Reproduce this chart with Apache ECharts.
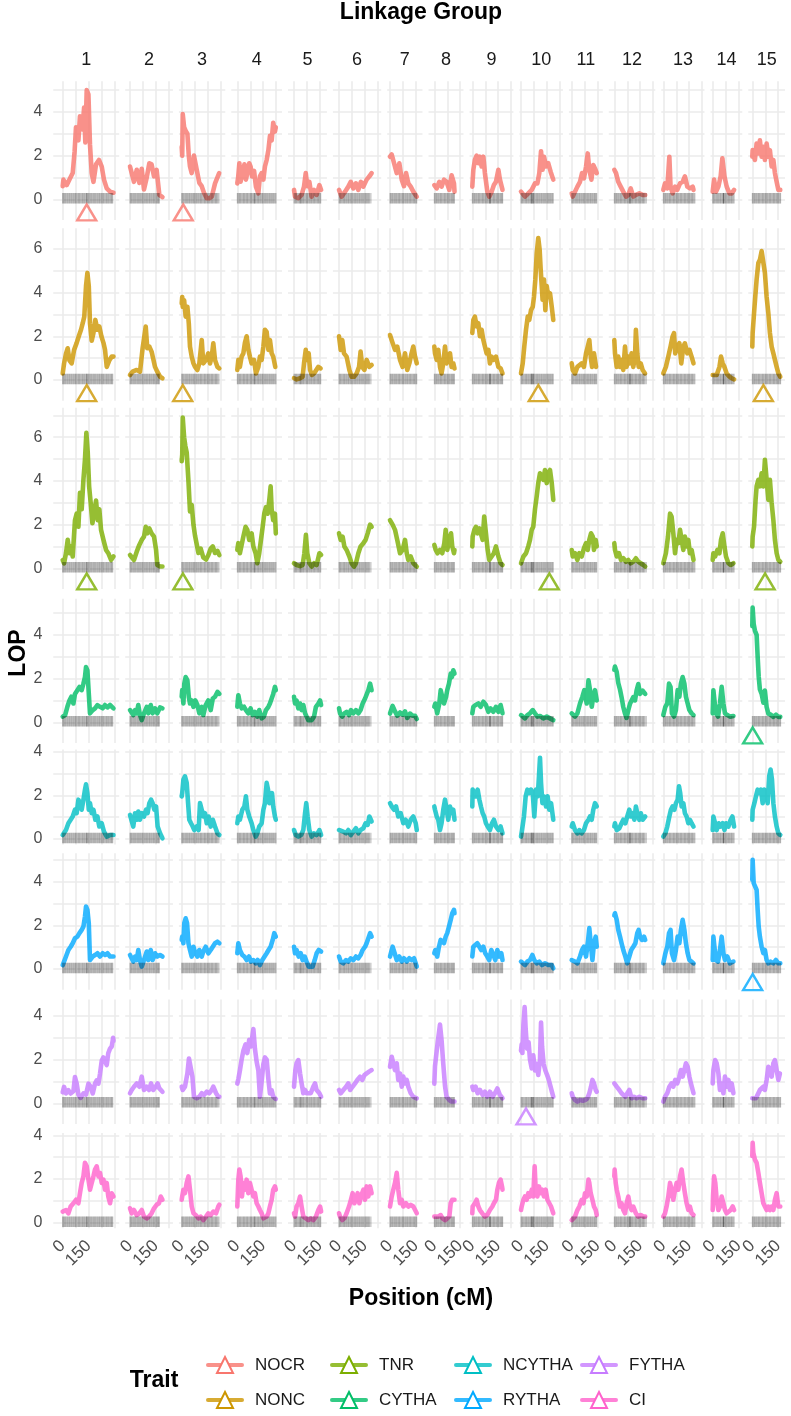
<!DOCTYPE html>
<html>
<head>
<meta charset="utf-8">
<script src="https://cdn.jsdelivr.net/npm/echarts@6/dist/echarts.min.js"></script>
<style>
  html, body { margin: 0; padding: 0; background: #fff; }
  #chart { width: 791px; height: 1416px; }
</style>
</head>
<body>
<div id="chart"></div>
<script>
// traits (facet rows) and linkage groups (facet columns)
const traits = ['NOCR', 'NONC', 'TNR', 'CYTHA', 'NCYTHA', 'RYTHA', 'FYTHA', 'CI'];
const groups = ['1', '2', '3', '4', '5', '6', '7', '8', '9', '10', '11', '12', '13', '14', '15'];
const colors = ['#F8766D', '#CD9600', '#7CAE00', '#00BE67', '#00BFC4', '#00A9FF', '#C77CFF', '#FF61CC'];

// tick labels
const xTickLabels = [0, 150];
const yTickLabels = [0, 2, 4, 6];
const xGridValues = [0, 75, 150, 225, 300];
const yGridValues = [-1, 0, 1, 2, 3, 4, 5, 6, 7];

// LOP profiles: one list of [position cM, LOP] per linkage group
const lopNOCR = [
  [[0,0.6],[4,0.9],[23,0.65],[42,0.95],[58,1.2],[69,2.2],[77,3.3],[91,2.7],[100,3.8],[114,3.2],[124,4.2],[131,2.6],[139,5.0],[149,4.8],[158,2.5],[168,1.2],[178,0.8],[193,1.6],[210,1.8],[226,1.5],[239,0.9],[255,0.5],[274,0.35],[294,0.3]],
  [[0,1.5],[10,1.2],[23,0.8],[39,1.35],[54,0.75],[68,1.4],[81,0.45],[97,1.0],[112,1.65],[125,1.6],[139,1.05],[154,1.35],[170,0.2],[188,0.1]],
  [[0,2.4],[3,2.0],[6,3.9],[14,3.3],[25,3.1],[33,3.0],[41,2.0],[48,1.5],[58,1.2],[71,2.0],[87,1.35],[102,0.75],[116,0.6],[129,0.3],[145,0.05],[160,0.05],[174,0.12],[193,0.73],[207,1.0],[217,1.2]],
  [[0,0.73],[5,1.0],[12,1.65],[19,0.8],[31,1.2],[41,1.6],[50,0.9],[58,1.2],[69,1.65],[77,1.5],[85,1.05],[97,1.3],[108,0.58],[122,0.27],[131,1.05],[141,1.2],[151,0.9],[160,1.5],[170,1.8],[180,2.25],[189,2.9],[199,2.7],[208,3.5],[218,3.1],[223,3.3]],
  [[0,0.43],[6,0.12],[25,0.05],[44,0.2],[58,0.58],[68,1.2],[77,0.6],[89,0.8],[102,0.12],[116,0.43],[131,0.2],[147,0.65],[157,0.43]],
  [[0,0.43],[15,0.12],[35,0.35],[54,0.58],[68,0.8],[83,0.5],[98,0.73],[112,0.43],[127,0.8],[141,0.58],[160,0.9],[176,1.05],[189,1.2]],
  [[0,1.95],[10,2.05],[19,2.1],[39,1.2],[54,1.65],[68,0.9],[81,0.6],[93,1.2],[106,0.73],[120,0.58],[135,0.35],[155,0.12]],
  [[0,0.65],[14,0.5],[29,0.8],[42,0.58],[56,0.9],[71,0.8],[87,0.43],[100,1.1],[114,0.73],[117,0.35]],
  [[0,0.58],[6,1.35],[15,1.8],[25,2.0],[35,1.65],[44,1.95],[54,1.5],[64,1.95],[73,1.2],[87,0.35],[98,0.12],[112,0.35],[125,0.65],[137,0.8],[151,1.35],[160,0.9],[175,0.43]],
  [[0,0.35],[10,0.43],[23,0.12],[42,0.27],[62,0.43],[81,0.73],[95,0.73],[106,1.2],[116,2.2],[125,1.35],[133,1.95],[145,1.5],[158,1.65],[172,1.25],[187,0.9]],
  [[0,0.27],[6,0.12],[19,0.35],[33,0.58],[48,0.8],[60,1.2],[71,0.96],[83,1.5],[93,2.1],[102,1.35],[114,0.9],[125,1.57],[135,1.4],[145,1.2]],
  [[0,1.35],[10,1.2],[23,0.8],[37,0.58],[52,0.35],[68,0.12],[81,0.2],[95,0.5],[110,0.12],[125,0.2],[145,0.27],[164,0.2],[179,0.2]],
  [[0,0.43],[10,0.73],[23,0.5],[35,1.95],[42,0.58],[54,0.27],[68,0.58],[81,0.43],[97,0.73],[112,0.8],[125,1.05],[139,0.58],[154,0.5],[170,0.58],[175,0.43]],
  [[0,0.35],[8,0.9],[19,0.35],[33,0.58],[46,1.05],[56,1.88],[68,1.05],[81,0.58],[97,0.27],[110,0.27],[124,0.43]],
  [[0,1.95],[2,2.25],[15,1.8],[25,2.55],[35,2.1],[44,2.7],[54,1.95],[64,2.4],[73,1.8],[83,2.55],[93,1.95],[102,2.25],[112,1.5],[122,1.8],[131,1.2],[141,0.8],[151,0.43],[162,0.43]]
];
const lopNONC = [
  [[0,0.3],[8,0.76],[19,1.2],[29,1.45],[39,0.9],[52,0.76],[66,1.38],[81,1.7],[95,2.05],[106,2.3],[116,2.6],[125,2.9],[135,4.3],[143,4.9],[151,4.3],[158,2.6],[168,1.8],[178,2.15],[189,2.75],[201,2.3],[212,2.45],[224,2.0],[236,1.7],[245,1.38],[255,0.6],[270,0.9],[284,1.07],[294,1.07]],
  [[0,0.23],[15,0.38],[39,0.46],[58,0.38],[73,1.45],[83,2.0],[91,2.45],[100,1.45],[112,1.53],[125,1.3],[135,1.22],[145,0.6],[158,0.38],[174,0.15],[188,0.08]],
  [[0,3.5],[3,3.8],[6,3.35],[14,3.65],[23,2.9],[33,3.35],[41,2.6],[48,1.53],[58,1.07],[68,0.76],[77,0.6],[91,0.46],[102,0.76],[116,1.83],[125,0.76],[141,0.92],[154,1.22],[164,0.76],[174,1.07],[183,1.68],[193,0.92],[207,0.6],[218,0.53]],
  [[0,0.46],[6,0.92],[15,0.6],[25,1.07],[35,1.22],[44,1.7],[54,2.0],[64,1.38],[73,1.07],[83,0.76],[97,0.92],[108,0.3],[122,0.6],[131,1.07],[141,0.92],[151,1.53],[160,2.3],[170,2.2],[180,1.38],[189,1.83],[199,1.22],[208,1.07],[220,0.6]],
  [[0,0.08],[15,0.03],[35,0.08],[50,0.15],[58,0.76],[68,1.38],[77,0.92],[85,1.22],[93,0.46],[104,0.23],[116,0.3],[127,0.23],[141,0.6],[154,0.53]],
  [[0,2.0],[10,1.38],[19,1.83],[29,1.22],[44,1.07],[60,0.46],[73,0.15],[87,0.15],[102,0.3],[116,0.6],[125,1.3],[135,0.6],[147,0.46],[160,0.92],[176,0.6],[189,0.69]],
  [[0,2.06],[15,1.7],[29,1.38],[42,1.53],[58,0.92],[73,0.6],[87,1.22],[100,0.46],[112,0.76],[125,1.22],[135,1.53],[145,1.07],[155,0.76]],
  [[0,1.53],[4,1.22],[14,0.92],[23,1.38],[33,0.6],[42,0.3],[52,0.76],[62,1.53],[71,0.76],[81,1.07],[91,1.22],[100,0.6],[110,0.76],[117,0.53]],
  [[0,2.15],[6,2.75],[15,2.9],[25,2.45],[35,2.6],[44,2.0],[54,2.3],[64,1.83],[73,1.53],[83,1.22],[93,1.38],[102,0.76],[112,1.07],[122,0.92],[137,1.07],[151,0.6],[164,0.53],[175,0.3]],
  [[0,0.3],[10,0.76],[19,1.53],[29,2.3],[39,2.9],[48,2.75],[58,3.2],[68,3.35],[75,3.8],[83,4.6],[91,5.8],[100,6.5],[108,5.96],[114,5.05],[120,4.3],[125,3.67],[133,4.6],[141,3.2],[149,4.3],[158,3.8],[168,3.97],[178,3.35],[187,2.75]],
  [[0,0.76],[6,0.46],[19,0.3],[33,0.6],[44,0.53],[58,0.76],[71,0.6],[83,1.22],[93,1.53],[102,1.83],[110,1.07],[118,0.6],[129,1.22],[141,0.6],[145,0.6]],
  [[0,1.83],[4,1.22],[14,0.6],[23,1.07],[33,0.6],[42,0.92],[52,0.46],[62,1.53],[71,0.6],[81,1.07],[91,0.76],[100,1.22],[110,0.6],[120,1.07],[125,2.3],[133,1.22],[141,0.6],[153,0.76],[164,0.46],[178,0.3]],
  [[0,0.3],[15,0.6],[29,1.07],[42,1.53],[54,2.0],[62,2.15],[69,1.22],[81,1.53],[93,1.68],[104,0.76],[116,1.53],[125,1.68],[139,1.22],[151,1.38],[164,1.07],[175,0.76]],
  [[0,0.23],[8,0.18],[23,0.23],[39,0.6],[48,1.07],[58,0.76],[68,0.6],[81,0.3],[97,0.15],[110,0.08],[124,0.03]],
  [[0,1.53],[2,2.15],[10,3.05],[17,3.8],[25,4.6],[35,5.35],[44,5.5],[54,5.9],[64,5.96],[73,4.9],[83,3.8],[93,3.05],[102,2.15],[112,1.53],[122,1.22],[131,0.92],[141,0.6],[151,0.3],[162,0.15]]
];
const lopTNR = [
  [[0,0.38],[8,0.23],[19,0.69],[29,1.3],[39,0.69],[48,1.0],[58,0.54],[71,2.2],[81,2.5],[91,1.9],[100,3.45],[110,2.7],[120,4.05],[129,5.0],[137,6.2],[145,5.3],[153,3.75],[162,3.0],[172,2.06],[181,2.5],[193,3.1],[203,2.2],[212,2.7],[222,1.76],[236,1.3],[251,0.84],[264,0.69],[280,0.38],[294,0.54]],
  [[0,0.61],[10,0.54],[23,0.38],[39,0.76],[54,1.07],[68,1.3],[81,1.45],[91,1.9],[100,1.6],[112,1.83],[125,1.6],[139,1.45],[151,0.84],[158,0.15],[174,0.08],[188,0.08]],
  [[0,4.9],[3,5.2],[6,6.9],[14,6.0],[21,5.6],[29,5.3],[39,4.0],[48,2.6],[58,2.9],[68,2.0],[77,1.5],[87,1.1],[97,0.7],[110,0.9],[125,0.5],[141,0.4],[154,0.6],[168,0.9],[180,1.0],[193,0.7],[207,0.8],[218,0.6]],
  [[0,0.84],[6,1.15],[15,0.69],[25,1.07],[35,1.45],[48,1.9],[58,1.76],[69,1.3],[83,1.6],[93,1.0],[106,0.69],[116,0.23],[127,0.69],[137,1.3],[147,1.9],[156,2.5],[166,2.8],[176,2.5],[185,3.1],[193,3.75],[199,2.7],[208,2.2],[218,2.5],[223,1.6]],
  [[0,0.23],[15,0.15],[35,0.1],[50,0.15],[60,0.69],[69,1.53],[77,0.69],[89,0.23],[102,0.08],[116,0.23],[131,0.15],[147,0.69],[157,0.61]],
  [[0,1.6],[10,1.3],[21,1.45],[31,1.0],[44,0.84],[60,0.54],[73,0.23],[87,0.08],[98,0.23],[112,0.69],[125,1.0],[141,1.15],[154,1.3],[166,1.6],[180,2.0],[189,1.9]],
  [[0,2.2],[15,2.0],[29,1.76],[42,1.3],[58,0.69],[73,0.84],[87,1.3],[97,0.69],[106,0.38],[120,0.54],[135,0.23],[155,0.08]],
  [[0,1.07],[8,0.84],[19,0.69],[33,0.84],[46,0.69],[58,1.15],[66,1.76],[75,0.84],[87,1.3],[97,1.6],[104,1.0],[114,0.69],[117,0.84]],
  [[0,1.0],[2,1.45],[12,1.76],[21,1.9],[31,1.6],[41,1.83],[50,1.76],[60,1.3],[69,2.37],[79,1.6],[89,0.84],[98,0.38],[112,0.54],[125,0.69],[137,1.0],[151,0.54],[164,0.23],[175,0.15]],
  [[0,0.23],[14,0.54],[29,0.69],[42,1.0],[52,1.3],[62,1.76],[71,1.9],[81,2.7],[91,3.3],[100,3.9],[110,4.35],[120,4.2],[129,4.05],[139,4.5],[149,3.9],[158,4.35],[168,4.5],[178,3.9],[187,3.13]],
  [[0,0.84],[6,0.54],[19,0.69],[33,0.38],[44,0.69],[58,0.54],[71,0.92],[83,1.15],[93,0.84],[102,1.3],[112,1.6],[122,1.45],[129,0.84],[139,1.3],[145,1.0]],
  [[0,1.15],[4,0.84],[14,0.54],[27,0.69],[39,0.38],[52,0.46],[68,0.3],[81,0.38],[95,0.23],[110,0.3],[125,0.46],[139,0.3],[153,0.23],[168,0.15],[179,0.08]],
  [[0,0.23],[15,0.69],[27,1.45],[39,2.5],[48,2.37],[58,1.6],[68,0.69],[77,1.3],[87,1.15],[97,1.76],[106,1.3],[116,0.84],[125,1.45],[135,1.0],[145,1.3],[154,0.69],[164,0.84],[175,0.38]],
  [[0,0.38],[4,0.69],[14,0.54],[27,0.84],[39,0.69],[48,1.3],[58,1.6],[68,1.0],[77,0.54],[91,0.23],[104,0.15],[120,0.23]],
  [[0,1.0],[2,1.45],[10,1.9],[19,3.13],[25,3.75],[35,4.05],[44,3.75],[54,4.35],[64,3.75],[73,4.97],[83,4.05],[93,3.13],[102,4.05],[112,3.0],[122,2.2],[131,1.3],[141,0.69],[151,0.38],[162,0.3]]
];
const lopCYTHA = [
  [[0,0.26],[14,0.33],[27,0.71],[39,1.0],[50,1.17],[62,0.86],[71,1.3],[85,1.47],[97,1.62],[110,1.47],[120,1.77],[129,2.07],[135,2.53],[143,2.38],[151,2.45],[158,0.41],[174,0.56],[187,0.64],[201,0.79],[216,0.71],[232,0.64],[245,0.79],[259,0.68],[274,0.79],[294,0.64]],
  [[0,0.56],[10,0.48],[19,0.33],[29,0.56],[39,0.41],[48,0.79],[58,0.33],[68,0.1],[81,0.41],[97,0.71],[106,0.41],[120,0.79],[131,0.41],[145,0.64],[158,0.41],[174,0.68],[188,0.64]],
  [[0,1.17],[3,1.47],[10,0.86],[15,1.77],[23,2.07],[33,1.92],[41,1.17],[48,0.86],[58,1.0],[68,0.71],[79,1.0],[91,0.79],[102,0.41],[116,0.71],[125,0.33],[139,0.79],[154,1.0],[168,0.56],[180,1.09],[193,1.17],[207,1.39],[218,1.3]],
  [[0,0.71],[6,1.24],[15,0.86],[25,0.64],[39,0.71],[50,0.56],[64,0.41],[77,0.64],[89,0.33],[102,0.48],[116,0.26],[127,0.56],[141,0.18],[154,0.26],[166,0.56],[180,0.71],[189,0.86],[199,1.09],[208,1.3],[218,1.62],[223,1.47]],
  [[0,1.17],[6,0.86],[15,1.0],[25,0.64],[35,0.86],[44,0.56],[54,0.79],[64,0.41],[73,0.26],[83,0.1],[93,0.18],[102,0.1],[116,0.26],[127,0.71],[141,0.86],[151,1.0],[157,0.79]],
  [[0,0.64],[6,0.41],[19,0.26],[31,0.41],[44,0.48],[58,0.33],[69,0.56],[83,0.41],[98,0.56],[112,0.41],[125,0.56],[137,0.86],[151,1.09],[160,1.0],[170,1.47],[180,1.77],[189,1.47]],
  [[0,0.4],[15,0.75],[29,0.5],[42,0.3],[58,0.45],[73,0.35],[87,0.5],[100,0.2],[116,0.4],[131,0.3],[145,0.3],[155,0.15]],
  [[0,0.71],[6,0.86],[17,0.41],[29,0.86],[37,1.47],[46,1.17],[56,0.86],[68,1.17],[75,1.47],[85,1.77],[95,2.23],[102,2.07],[110,2.38],[117,2.23]],
  [[0,0.41],[6,0.71],[19,0.79],[35,0.86],[48,0.71],[64,0.94],[79,0.79],[93,0.48],[106,0.64],[122,0.48],[137,0.71],[151,0.48],[164,0.79],[175,0.41]],
  [[0,0.33],[10,0.26],[23,0.18],[37,0.33],[52,0.41],[68,0.56],[81,0.41],[95,0.26],[110,0.29],[129,0.18],[149,0.26],[168,0.18],[187,0.1]],
  [[0,0.41],[6,0.33],[19,0.26],[33,0.41],[48,0.86],[62,1.17],[73,1.47],[87,0.86],[97,1.92],[106,1.47],[116,0.71],[125,1.17],[135,1.47],[145,1.0]],
  [[0,2.4],[4,2.55],[14,2.3],[23,1.8],[33,1.5],[42,1.15],[52,0.7],[62,0.4],[71,0.2],[81,0.55],[91,0.85],[100,1.0],[110,1.15],[120,1.0],[129,1.45],[139,1.75],[149,1.3],[164,1.45],[179,1.3]],
  [[0,0.33],[12,0.71],[23,0.86],[33,1.77],[42,1.62],[50,0.41],[62,0.26],[73,0.56],[83,1.47],[93,1.17],[102,1.77],[112,2.07],[122,1.77],[131,1.17],[141,0.86],[151,0.56],[164,0.41],[175,0.33]],
  [[0,0.41],[4,1.47],[12,0.86],[19,0.41],[31,0.26],[42,0.86],[52,1.62],[62,0.86],[71,0.41],[85,0.33],[100,0.26],[120,0.29]],
  [[0,4.4],[2,5.25],[8,4.5],[15,4.2],[25,4.0],[31,3.0],[37,2.1],[44,1.5],[54,1.3],[64,0.9],[73,1.45],[83,0.7],[93,0.4],[106,0.35],[122,0.25],[137,0.35],[151,0.25],[162,0.25]]
];
const lopNCYTHA = [
  [[0,0.18],[8,0.11],[19,0.41],[33,0.72],[46,0.88],[58,1.03],[71,1.34],[81,1.18],[91,1.8],[100,1.64],[110,1.34],[120,1.8],[129,2.26],[135,2.5],[143,2.1],[151,1.34],[158,1.64],[168,1.18],[178,1.34],[189,0.88],[201,1.03],[212,0.57],[226,0.72],[239,0.34],[255,0.11],[274,0.18],[294,0.18]],
  [[0,1.1],[8,1.03],[19,0.57],[29,1.18],[39,0.88],[48,1.26],[58,0.88],[68,1.18],[81,1.03],[93,1.34],[102,1.18],[112,1.64],[122,1.8],[131,1.64],[141,1.34],[151,1.49],[160,0.57],[174,0.26],[188,0.03]],
  [[0,1.95],[3,2.1],[10,2.72],[19,2.87],[29,2.57],[37,1.64],[44,0.88],[54,0.72],[64,0.57],[73,0.41],[87,0.57],[98,0.41],[106,1.64],[116,1.34],[125,1.03],[135,1.18],[145,0.72],[156,1.03],[168,0.57],[180,0.88],[193,0.57],[207,0.26],[218,0.18]],
  [[0,0.72],[6,1.03],[15,0.88],[29,1.34],[41,1.49],[50,1.95],[58,1.34],[69,1.03],[83,0.72],[93,0.41],[106,0.11],[116,0.26],[127,0.57],[141,0.72],[151,1.34],[160,1.64],[170,2.57],[178,2.26],[185,1.64],[193,1.95],[201,2.1],[208,1.49],[218,1.03],[223,0.88]],
  [[0,0.41],[10,0.18],[25,0.11],[41,0.18],[54,0.41],[64,1.18],[71,1.64],[79,1.03],[89,0.41],[102,0.11],[116,0.26],[131,0.18],[147,0.41],[157,0.18]],
  [[0,0.41],[10,0.49],[25,0.34],[41,0.26],[54,0.41],[68,0.18],[83,0.34],[98,0.49],[112,0.26],[125,0.41],[141,0.49],[154,0.72],[166,0.65],[176,1.03],[189,0.8]],
  [[0,1.64],[10,1.49],[23,1.34],[35,1.49],[48,1.03],[62,1.18],[77,0.72],[91,0.88],[106,0.57],[120,0.88],[135,1.03],[149,0.72],[155,0.41]],
  [[0,1.49],[4,1.34],[14,1.03],[23,0.88],[33,0.41],[42,0.72],[52,1.34],[62,1.8],[71,1.34],[81,0.88],[91,1.49],[100,1.18],[110,1.34],[117,0.88]],
  [[0,1.49],[2,2.26],[12,2.33],[21,1.95],[31,2.26],[41,1.8],[50,1.49],[60,1.18],[69,1.03],[79,0.72],[89,0.57],[102,0.41],[114,0.72],[125,0.88],[137,0.57],[151,0.41],[164,0.57],[175,0.26]],
  [[0,0.11],[6,0.41],[17,1.03],[27,1.95],[37,2.26],[48,2.1],[58,2.26],[68,2.1],[77,1.03],[87,2.26],[97,1.95],[104,2.87],[110,3.72],[116,2.57],[124,1.64],[133,1.95],[145,1.49],[154,1.95],[164,1.34],[174,1.64],[187,0.88]],
  [[0,0.57],[6,0.72],[19,0.41],[33,0.26],[44,0.41],[58,0.26],[71,0.41],[83,0.72],[97,0.88],[106,1.03],[116,0.88],[125,1.34],[135,1.64],[145,1.49]],
  [[0,0.57],[4,0.72],[14,0.41],[29,0.49],[42,0.72],[52,0.88],[64,0.72],[75,1.03],[87,1.34],[95,1.03],[106,1.18],[116,0.88],[125,1.49],[133,1.18],[145,0.88],[154,1.18],[164,0.88],[179,1.03]],
  [[0,0.11],[12,0.26],[23,0.57],[35,1.03],[44,1.34],[54,1.49],[64,1.34],[73,1.64],[83,1.8],[91,2.41],[98,2.1],[106,1.49],[116,1.64],[125,1.18],[135,1.03],[145,0.72],[154,0.88],[164,0.72],[175,0.57]],
  [[0,0.41],[4,1.03],[14,0.72],[23,0.41],[35,0.72],[46,0.57],[58,0.72],[68,0.41],[77,0.72],[91,0.57],[104,0.88],[114,1.03],[124,0.57]],
  [[0,0.88],[2,1.34],[12,1.64],[21,1.95],[31,2.26],[41,2.1],[50,2.26],[60,1.64],[69,2.26],[79,2.1],[89,1.64],[98,2.87],[106,3.18],[114,2.72],[122,1.64],[131,1.03],[141,0.57],[151,0.26],[162,0.18]]
];
const lopRYTHA = [
  [[0,0.18],[8,0.26],[19,0.57],[33,0.87],[46,1.02],[58,1.18],[71,1.41],[85,1.48],[97,1.64],[110,1.79],[120,1.94],[129,2.4],[135,2.86],[143,2.71],[151,2.1],[158,0.41],[174,0.57],[187,0.64],[201,0.72],[216,0.57],[232,0.72],[245,0.64],[259,0.72],[274,0.57],[294,0.57]],
  [[0,0.64],[10,0.57],[19,0.34],[29,0.57],[39,0.41],[48,0.87],[58,0.41],[68,0.11],[81,0.41],[97,0.8],[106,0.41],[120,0.87],[131,0.41],[145,0.72],[158,0.57],[174,0.64],[188,0.57]],
  [[0,1.33],[3,1.48],[10,1.18],[15,2.1],[23,2.32],[31,2.1],[39,1.18],[48,0.87],[58,0.57],[68,1.02],[79,0.72],[91,0.57],[102,0.87],[116,0.57],[125,0.8],[139,1.02],[154,0.72],[168,0.87],[180,1.02],[193,1.18],[207,1.25],[218,1.18]],
  [[0,0.72],[6,1.18],[15,0.87],[29,0.64],[41,0.57],[54,0.41],[68,0.57],[79,0.34],[93,0.41],[106,0.26],[118,0.41],[131,0.18],[145,0.41],[156,0.34],[170,0.72],[181,0.87],[193,1.02],[205,1.33],[214,1.64],[223,1.48]],
  [[0,1.02],[6,0.72],[15,0.87],[27,0.57],[39,0.72],[50,0.41],[62,0.57],[73,0.34],[85,0.11],[96,0.18],[108,0.11],[120,0.41],[131,0.72],[143,0.87],[154,0.95],[157,0.8]],
  [[0,0.57],[10,0.34],[25,0.26],[41,0.41],[54,0.34],[68,0.49],[83,0.41],[98,0.57],[112,0.49],[125,0.64],[137,0.87],[151,1.02],[160,1.18],[170,1.41],[180,1.64],[189,1.48]],
  [[0,0.57],[15,1.02],[27,0.72],[39,0.41],[54,0.57],[68,0.34],[81,0.49],[97,0.34],[112,0.49],[125,0.41],[139,0.49],[155,0.11]],
  [[0,0.72],[6,0.87],[17,0.57],[27,1.02],[37,1.33],[46,1.41],[56,1.18],[66,1.48],[75,1.64],[85,1.94],[95,2.25],[104,2.55],[114,2.71],[117,2.55]],
  [[0,0.57],[6,1.02],[17,1.1],[29,1.18],[41,1.02],[52,0.87],[64,1.02],[75,0.72],[87,0.57],[98,0.41],[110,0.87],[122,0.64],[133,0.41],[145,0.87],[156,0.57],[168,0.72],[175,0.41]],
  [[0,0.34],[10,0.26],[23,0.18],[37,0.34],[52,0.41],[66,0.64],[77,0.41],[91,0.26],[106,0.34],[122,0.18],[139,0.26],[158,0.18],[178,0.18],[187,0.03]],
  [[0,0.41],[6,0.49],[19,0.34],[33,0.26],[48,0.57],[60,0.87],[71,1.02],[83,0.57],[95,1.33],[102,1.87],[110,1.18],[120,0.41],[129,1.18],[139,1.48],[145,1.02]],
  [[0,2.45],[4,2.55],[14,2.25],[23,1.79],[33,1.48],[42,1.18],[52,0.87],[64,0.57],[75,0.26],[87,0.57],[98,0.87],[110,1.02],[122,1.18],[133,1.64],[141,1.79],[149,1.48],[160,1.33],[172,1.48],[179,1.33]],
  [[0,0.26],[12,0.72],[23,1.02],[33,1.64],[42,1.79],[50,0.72],[62,0.41],[73,0.87],[83,1.48],[93,1.18],[102,1.79],[112,2.25],[122,1.79],[131,1.18],[141,0.72],[151,0.41],[164,0.34],[175,0.26]],
  [[0,0.41],[4,1.48],[12,0.87],[19,0.41],[31,0.34],[42,0.87],[52,1.48],[62,0.72],[71,0.41],[85,0.57],[100,0.26],[120,0.34]],
  [[0,4.08],[2,5.0],[8,3.93],[15,3.93],[25,3.62],[31,2.71],[37,1.94],[44,1.48],[54,1.02],[64,0.72],[73,0.87],[83,0.41],[93,0.26],[106,0.34],[122,0.26],[137,0.41],[151,0.26],[162,0.26]]
];
const lopFYTHA = [
  [[0,0.5],[8,0.75],[19,0.45],[33,0.6],[46,0.45],[62,0.55],[71,1.2],[81,0.9],[91,0.4],[104,0.25],[120,0.45],[135,0.4],[149,0.9],[162,0.75],[174,0.45],[187,0.9],[197,1.05],[207,0.9],[216,1.35],[226,1.95],[236,2.1],[245,2.1],[255,1.75],[264,2.3],[274,2.5],[284,2.6],[292,3.0],[294,2.85]],
  [[0,0.46],[10,0.61],[23,0.76],[39,0.91],[54,0.76],[68,1.22],[81,0.61],[97,0.76],[110,0.61],[122,0.91],[135,0.61],[149,0.76],[160,0.91],[170,0.68],[188,0.53]],
  [[0,0.76],[6,0.61],[19,0.76],[33,1.37],[42,2.05],[52,1.98],[62,1.22],[71,0.3],[87,0.23],[102,0.3],[116,0.46],[129,0.38],[145,0.53],[160,0.46],[174,0.61],[183,0.76],[199,0.46],[212,0.3],[218,0.3]],
  [[0,0.9],[6,1.1],[15,1.5],[25,2.0],[35,2.4],[48,2.7],[58,2.3],[69,2.9],[79,2.6],[93,3.4],[102,2.5],[112,1.9],[122,1.5],[131,0.3],[141,1.0],[151,1.8],[160,2.1],[170,2.0],[180,1.1],[189,0.45],[199,0.6],[208,0.3],[223,0.2]],
  [[0,0.76],[8,1.52],[15,1.83],[25,1.98],[35,1.37],[44,0.91],[54,0.46],[64,0.61],[73,0.46],[83,0.53],[97,0.46],[112,0.76],[122,0.91],[131,0.61],[147,0.46],[157,0.3]],
  [[0,0.61],[10,0.46],[25,0.61],[41,0.76],[54,0.91],[64,0.61],[79,0.76],[93,0.91],[106,1.07],[122,1.22],[135,1.07],[147,1.29],[160,1.37],[174,1.45],[189,1.52]],
  [[0,1.67],[10,2.13],[19,1.83],[29,1.52],[39,1.83],[48,1.07],[58,1.37],[68,0.76],[77,1.22],[87,0.91],[97,1.07],[106,0.76],[120,0.46],[135,0.3],[155,0.23]],
  [[0,0.9],[4,1.7],[14,2.4],[23,3.0],[33,3.6],[42,2.9],[52,1.8],[62,0.8],[71,0.3],[87,0.15],[100,0.08],[117,0.08]],
  [[0,0.76],[6,0.61],[19,0.76],[31,0.46],[44,0.61],[60,0.38],[73,0.53],[87,0.3],[102,0.53],[118,0.3],[131,0.46],[145,0.68],[160,0.38],[175,0.23]],
  [[0,2.4],[4,2.7],[8,2.3],[14,3.6],[21,4.4],[27,3.4],[35,2.5],[44,2.8],[52,2.0],[62,1.6],[71,2.2],[81,1.5],[91,1.8],[100,1.3],[110,2.0],[116,3.7],[122,2.6],[131,1.8],[141,1.5],[151,1.3],[160,1.1],[170,0.8],[180,0.5],[187,0.3]],
  [[0,0.46],[6,0.3],[19,0.15],[33,0.08],[48,0.15],[64,0.12],[77,0.15],[91,0.23],[102,0.46],[112,0.76],[120,1.07],[129,0.91],[139,0.61],[145,0.53]],
  [[0,0.91],[4,0.99],[14,0.76],[29,0.61],[42,0.46],[52,0.53],[64,0.3],[75,0.46],[87,0.61],[100,0.23],[114,0.3],[129,0.23],[145,0.3],[164,0.23],[179,0.23]],
  [[0,0.08],[10,0.3],[23,0.46],[35,0.76],[48,0.91],[58,0.76],[69,1.07],[81,0.91],[93,1.22],[102,1.52],[112,1.22],[122,1.52],[131,1.83],[141,1.67],[151,1.22],[160,0.91],[170,0.61],[175,0.46]],
  [[0,0.91],[4,1.52],[14,1.98],[23,1.83],[33,1.37],[42,0.61],[52,0.91],[62,0.46],[71,1.22],[81,0.76],[91,1.07],[100,0.61],[110,0.91],[120,0.46]],
  [[0,0.23],[6,0.18],[21,0.23],[35,0.46],[44,0.61],[54,0.53],[64,0.76],[73,0.61],[83,1.07],[93,1.67],[102,1.52],[112,1.22],[122,1.83],[131,1.98],[141,1.52],[151,1.07],[160,1.37]]
];
const lopCI = [
  [[0,0.51],[8,0.43],[19,0.58],[33,0.43],[46,0.74],[62,0.89],[77,1.05],[91,0.89],[100,1.35],[110,1.82],[120,2.12],[129,2.74],[139,2.58],[149,1.97],[158,1.51],[168,1.82],[178,2.12],[187,2.43],[197,2.58],[207,2.12],[216,2.28],[226,1.82],[236,1.97],[245,1.51],[255,1.82],[264,1.2],[274,0.89],[284,1.35],[294,1.2]],
  [[0,0.66],[10,0.43],[23,0.58],[39,0.35],[54,0.43],[68,0.58],[81,0.28],[97,0.2],[110,0.28],[125,0.43],[139,0.66],[154,0.82],[168,0.89],[178,1.2],[188,1.05]],
  [[0,1.05],[3,1.2],[10,1.51],[19,1.35],[29,1.82],[39,2.12],[48,1.51],[58,0.74],[68,0.43],[81,0.35],[97,0.2],[110,0.28],[125,0.12],[141,0.28],[154,0.43],[168,0.35],[183,0.51],[199,0.43],[212,0.74],[218,0.82]],
  [[0,0.74],[6,1.97],[12,2.43],[19,2.12],[27,1.2],[35,1.82],[44,1.51],[54,1.97],[64,1.35],[73,1.82],[83,1.51],[93,1.2],[102,1.35],[112,0.89],[122,0.74],[131,0.58],[141,0.43],[151,0.2],[160,0.12],[170,0.28],[180,0.43],[189,0.74],[199,1.05],[208,1.51],[218,1.66],[223,1.51]],
  [[0,0.43],[6,0.28],[15,0.74],[25,0.89],[35,1.2],[44,0.74],[54,0.28],[69,0.2],[83,0.12],[97,0.2],[112,0.12],[127,0.28],[141,0.58],[151,0.74],[157,0.51]],
  [[0,0.43],[6,0.28],[19,0.12],[31,0.2],[44,0.43],[58,0.74],[69,1.05],[79,1.35],[89,0.89],[98,1.05],[108,1.35],[118,0.89],[127,1.2],[141,1.51],[151,1.05],[160,1.66],[170,1.2],[180,1.66],[189,1.35]],
  [[0,0.74],[10,1.2],[19,1.51],[29,1.82],[39,2.28],[48,1.51],[58,0.89],[68,1.05],[77,0.74],[93,0.89],[106,0.74],[120,0.82],[135,0.74],[155,0.43]],
  [[0,0.28],[10,0.2],[23,0.28],[37,0.35],[48,0.2],[62,0.12],[75,0.2],[87,0.28],[95,0.89],[104,1.05],[114,1.12],[117,1.05]],
  [[0,0.43],[2,0.74],[15,0.89],[25,1.05],[35,0.74],[44,0.58],[58,0.43],[73,0.28],[87,0.35],[102,0.58],[116,0.74],[125,0.89],[137,1.05],[145,1.51],[154,1.82],[164,1.97],[172,1.66],[175,1.51]],
  [[0,0.58],[4,0.74],[14,1.05],[23,1.2],[33,1.05],[42,1.35],[52,1.2],[62,1.51],[71,1.2],[79,2.58],[85,1.51],[95,1.2],[104,1.66],[114,1.35],[124,1.51],[133,1.2],[143,1.51],[153,1.05],[164,0.89],[174,0.74],[187,0.43]],
  [[0,0.12],[6,0.2],[19,0.28],[33,0.58],[44,0.74],[58,1.05],[68,0.89],[77,1.35],[87,1.2],[97,1.97],[102,1.82],[110,1.35],[120,1.05],[129,0.74],[139,0.58],[145,0.35]],
  [[0,2.12],[2,2.43],[8,1.82],[14,1.51],[23,1.2],[33,0.74],[42,0.89],[52,0.58],[62,0.43],[71,0.89],[81,1.2],[91,0.74],[100,0.58],[110,0.74],[125,0.43],[139,0.28],[153,0.35],[168,0.28],[179,0.28]],
  [[0,0.28],[10,0.43],[19,0.74],[29,1.2],[39,1.82],[48,1.51],[58,1.05],[68,1.51],[77,1.82],[87,1.51],[97,2.12],[106,2.43],[116,1.82],[125,1.35],[135,0.89],[145,0.58],[154,0.74],[164,0.43],[175,0.35]],
  [[0,0.58],[2,1.2],[8,2.12],[15,1.82],[23,1.05],[33,0.58],[42,0.74],[52,1.2],[62,0.89],[71,0.58],[81,0.43],[91,0.35],[104,0.58],[116,0.74],[124,0.58]],
  [[0,3.05],[2,3.66],[6,3.2],[15,2.89],[25,2.74],[35,2.28],[44,1.82],[54,1.35],[64,0.89],[73,0.74],[83,0.58],[93,0.74],[102,0.58],[112,0.74],[122,0.58],[131,1.05],[141,1.35],[151,0.74],[162,0.74]]
];
const lopByTrait = [lopNOCR, lopNONC, lopTNR, lopCYTHA, lopNCYTHA, lopRYTHA, lopFYTHA, lopCI];

// QTL peaks: [linkage group, position cM]
const qtlNOCR = [[1,139],[3,9]];
const qtlNONC = [[1,139],[3,6],[10,100],[15,64]];
const qtlTNR = [[1,139],[3,7],[10,164],[15,74]];
const qtlCYTHA = [[15,2]];
const qtlNCYTHA = [];
const qtlRYTHA = [[15,2]];
const qtlFYTHA = [[10,29]];
const qtlCI = [];
const qtlByTrait = [qtlNOCR, qtlNONC, qtlTNR, qtlCYTHA, qtlNCYTHA, qtlRYTHA, qtlFYTHA, qtlCI];

// marker positions (cM) per linkage group
const markerPos = [
  [0,3,8,12,17,21,27,31,36,40,45,51,55,60,64,69,74,78,83,88,92,97,101,106,111,115,120,125,129,134,138,140,143,148,152,157,162,166,171,176,180,185,189,194,199,203,208,213,217,222,226,231,236,240,245,250,254,259,264,268,273,278,282,286,290],
  [0,4,9,13,18,22,27,31,36,41,45,50,54,59,63,68,72,77,82,86,91,95,100,104,109,113,118,123,127,132,136,141,145,150,154,159,163,166,170],
  [0,4,9,13,18,23,27,32,36,41,45,50,55,59,64,68,73,77,82,86,91,96,100,105,109,114,118,123,128,132,137,141,146,150,155,160,164,169,173,178,182,187,192,196,201,205,210,216],
  [0,4,9,13,18,22,27,32,36,41,45,50,54,59,63,68,73,77,82,86,91,95,100,101,104,109,114,118,123,127,132,136,141,146,150,155,159,164,168,173,177,182,187,191,196,200,205,209,214,219,224],
  [0,5,9,14,18,23,28,32,37,40,41,46,50,55,59,64,69,73,78,82,87,91,96,101,105,110,114,119,123,128,133,137,142,146,151,155],
  [0,4,9,13,18,23,27,32,36,41,45,50,55,59,64,68,73,77,82,87,91,96,100,105,109,114,119,123,128,132,137,141,146,151,155,160,164,169,173,178,185],
  [0,4,9,14,18,23,27,32,37,41,46,50,55,59,64,69,73,78,82,87,91,96,101,105,110,114,119,123,128,133,137,142,146,151,155],
  [0,4,9,13,18,23,27,32,36,41,45,50,55,59,64,68,73,77,82,87,91,96,100,105,109,113,116],
  [0,4,9,13,18,23,27,32,36,41,45,50,55,59,64,68,73,77,82,87,91,96,100,102,103,105,109,114,119,123,128,132,137,141,146,151,155,160,164,169,173,176],
  [0,4,9,13,18,23,27,32,36,41,45,50,55,59,62,63,64,68,71,73,77,82,87,91,96,100,105,109,114,119,123,128,132,137,141,146,151,155,160,164,169,173,178,182,187],
  [0,4,9,13,18,23,27,32,36,41,45,50,55,59,64,68,73,77,82,87,91,96,100,105,109,114,119,123,128,132,137,141,145],
  [0,4,9,13,18,23,27,32,36,41,45,50,55,59,64,68,73,77,82,87,90,91,92,96,100,105,109,114,119,123,128,132,137,141,146,151,155,160,164,169,173,178,185],
  [0,4,9,13,18,23,27,32,36,41,45,50,55,59,64,68,73,77,82,87,91,96,100,105,109,114,119,123,128,132,137,141,146,151,155,160,164,169,173,178,183],
  [0,4,9,13,18,23,27,32,36,41,45,50,55,59,62,63,64,68,73,77,82,87,91,96,100,105,109,114,119,124],
  [0,4,9,13,18,23,27,32,36,41,45,50,55,59,64,68,73,77,82,87,91,96,100,105,109,114,119,123,128,132,137,141,146,151,155,160,164]
];

// ---- layout (pixels) ----
const FONT = '"Liberation Sans", Arial, Helvetica, sans-serif';
const GRID_COLOR = '#EBEBEB';
const K = 0.1727;   // px per cM
const U = 21.85;    // px per LOP unit
const QTL_Y = -0.6;
const colZero  = [62.7, 130, 181.7, 237.3, 294, 339, 390, 434.3, 472.3, 521, 571.7, 614.3, 663.3, 712.7, 752.3];
const colLeft  = [53.3, 125.2, 178.9, 231.3, 288, 332.9, 387.2, 428.5, 469.5, 519.4, 568.9, 608.8, 661.3, 710.5, 748.3];
const colRight = [119.2, 172.9, 225.3, 282, 326.9, 381.2, 422.5, 463.5, 513.4, 562.9, 602.8, 655.3, 704.5, 742.3, 785];
const rowZero = [199.3, 380, 568.3, 722.3, 839, 969, 1103.3, 1222.7];
const rowMax  = [5.4, 6.95, 7.35, 5.65, 4.1, 5.3, 4.75, 4.1];
const rowMin  = [-0.95, -0.95, -0.95, -0.95, -0.25, -0.95, -0.95, -0.25];

const grids = [], xAxes = [], yAxes = [], series = [];

traits.forEach((trait, r) => {
  groups.forEach((g, c) => {
    const i = grids.length;
    grids.push({
      left: colLeft[c],
      width: colRight[c] - colLeft[c],
      top: rowZero[r] - rowMax[r] * U,
      height: (rowMax[r] - rowMin[r]) * U
    });
    const xmin = (colLeft[c] - colZero[c]) / K;
    const xmax = (colRight[c] - colZero[c]) / K;
    xAxes.push({
      gridIndex: i, type: 'value', min: xmin, max: xmax,
      axisLine: { show: false },
      axisTick: { show: false, customValues: xGridValues.filter(v => v >= xmin && v <= xmax) },
      splitLine: { show: true, lineStyle: { color: GRID_COLOR, width: 1.6 } },
      axisLabel: r === traits.length - 1 ? {
        show: true, customValues: xTickLabels, rotate: 45, margin: 15,
        fontFamily: FONT, fontSize: 17, color: '#4D4D4D'
      } : { show: false }
    });
    yAxes.push({
      gridIndex: i, type: 'value', min: rowMin[r], max: rowMax[r],
      axisLine: { show: false },
      axisTick: { show: false, customValues: yGridValues.filter(v => v >= rowMin[r] && v <= rowMax[r]) },
      splitLine: { show: true, lineStyle: { color: GRID_COLOR, width: 1.6 } },
      axisLabel: c === 0 ? {
        show: true, customValues: yTickLabels.filter(v => v <= rowMax[r]), margin: 11,
        fontFamily: FONT, fontSize: 16, color: '#4D4D4D'
      } : { show: false }
    });

    series.push({
      type: 'line', name: trait, xAxisIndex: i, yAxisIndex: i,
      data: lopByTrait[r][c],
      symbol: 'emptyTriangle', symbolSize: 14, showSymbol: false,
      lineStyle: { width: 4.6, color: colors[r], opacity: 0.8, cap: 'round', join: 'round' },
      itemStyle: { color: colors[r] },
      clip: false, silent: true, z: 2
    });
    series.push({
      type: 'scatter', xAxisIndex: i, yAxisIndex: i,
      data: markerPos[c].map(p => [p, 0]),
      symbol: 'rect', symbolSize: [1, 10.5], symbolOffset: [0, -1],
      itemStyle: { color: 'rgba(0,0,0,0.32)' },
      silent: true, z: 3
    });
    const peaks = qtlByTrait[r].filter(q => q[0] === c + 1);
    if (peaks.length) {
      series.push({
        type: 'scatter', xAxisIndex: i, yAxisIndex: i,
        data: peaks.map(q => [q[1], QTL_Y]),
        symbol: 'triangle', symbolSize: [19, 16],
        itemStyle: { color: 'rgba(255,255,255,0)', borderColor: colors[r], borderWidth: 2.4 },
        clip: false, silent: true, z: 4
      });
    }
  });
});

const graphics = [
  { type: 'text', x: 421, y: 13, style: { text: 'Linkage Group', font: 'bold 23px ' + FONT, fill: '#000', align: 'center', verticalAlign: 'middle' } },
  { type: 'text', x: 19, y: 653, rotation: Math.PI / 2, style: { text: 'LOP', font: 'bold 23px ' + FONT, fill: '#000', align: 'center', verticalAlign: 'middle' } },
  { type: 'text', x: 421, y: 1299, style: { text: 'Position (cM)', font: 'bold 23px ' + FONT, fill: '#000', align: 'center', verticalAlign: 'middle' } },
  { type: 'text', x: 154, y: 1381, style: { text: 'Trait', font: 'bold 23px ' + FONT, fill: '#000', align: 'center', verticalAlign: 'middle' } }
];
groups.forEach((g, c) => {
  graphics.push({ type: 'text', x: (colLeft[c] + colRight[c]) / 2, y: 60,
    style: { text: g, font: '18px ' + FONT, fill: '#1A1A1A', align: 'center', verticalAlign: 'middle' } });
});

const legendCols = [['NOCR', 'NONC'], ['TNR', 'CYTHA'], ['NCYTHA', 'RYTHA'], ['FYTHA', 'CI']];
const legendLeft = [201, 325, 449, 575];
const legends = legendCols.map((d, k) => ({
  data: d, orient: 'vertical', left: legendLeft[k], top: 1351,
  itemWidth: 34, itemHeight: 20, itemGap: 17, selectedMode: false,
  lineStyle: { width: 4 },
  textStyle: { fontFamily: FONT, fontSize: 17, color: '#1A1A1A', padding: [0, 0, 0, 8] }
}));

const chart = echarts.init(document.getElementById('chart'), null, { renderer: 'canvas' });
chart.setOption({
  animation: false,
  backgroundColor: '#fff',
  grid: grids,
  xAxis: xAxes,
  yAxis: yAxes,
  legend: legends,
  graphic: graphics,
  series: series
});
</script>
</body>
</html>
